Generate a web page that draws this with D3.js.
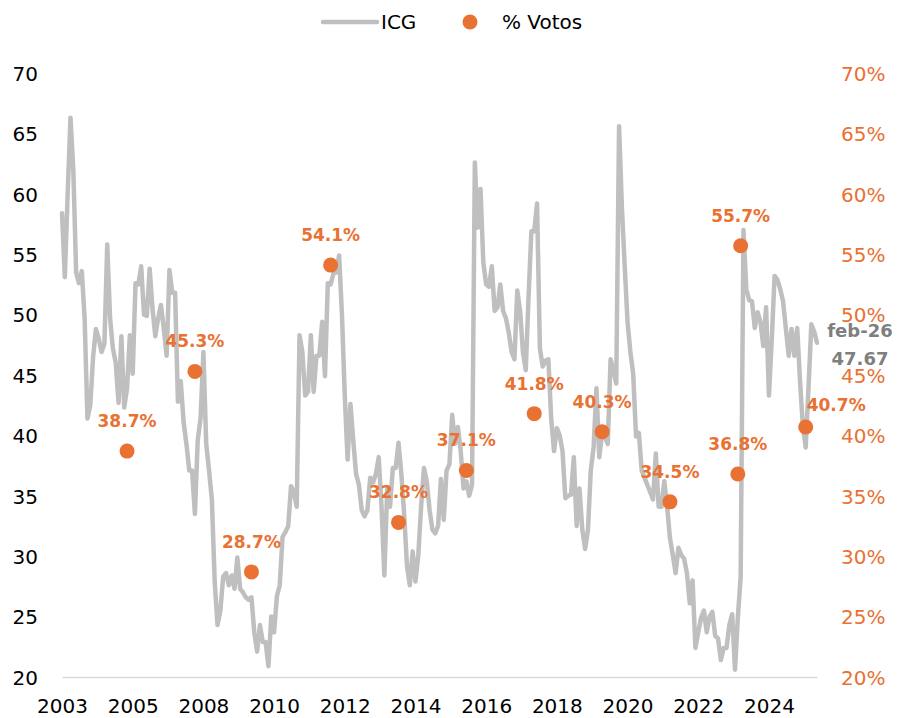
<!DOCTYPE html>
<html>
<head>
<meta charset="utf-8">
<script src="https://cdn.jsdelivr.net/npm/d3@7"></script>
<style>
  body { margin: 0; background: #fff; }
  svg { font-family: "DejaVu Sans", sans-serif; }
</style>
</head>
<body>
<div id="chart"></div>
<script>
// monthly ICG, Nov-2003 .. Feb-2026
var firstMonth = new Date(2003, 10, 1);
var icg = [
  58.4, 53.1, 60.0, 66.3, 62.0, 53.5, 52.6, 53.6, 49.7, 41.4,
  42.5, 46.5, 48.8, 48.0, 46.9, 47.6, 55.8, 49.7, 47.2, 46.0,
  42.7, 48.2, 42.3, 43.9, 48.3, 45.1, 52.6, 52.5, 54.0, 50.0,
  49.9, 53.8, 50.5, 48.2, 49.7, 50.8, 48.8, 46.6, 53.7, 51.8,
  51.8, 42.8, 44.5, 41.1, 39.3, 37.1, 37.1, 33.5, 39.6, 41.4,
  46.9, 39.3, 37.1, 34.7, 27.9, 24.3, 25.5, 28.3, 28.6, 27.6,
  28.4, 27.3, 29.9, 27.3, 27.0, 26.6, 26.4, 26.6, 23.7, 22.1,
  24.3, 22.9, 22.9, 20.9, 25.0, 23.7, 26.7, 27.6, 31.6, 32.0,
  32.5, 35.8, 35.3, 34.1, 48.3, 46.9, 43.3, 43.6, 48.3, 43.6,
  46.6, 46.6, 49.4, 44.9, 52.6, 52.5, 53.4, 53.5, 54.9, 50.0,
  43.3, 38.0, 42.6, 39.6, 36.8, 35.9, 33.8, 33.3, 33.8, 36.5,
  36.1, 36.8, 38.2, 34.1, 28.4, 35.6, 34.1, 37.3, 37.3, 39.4,
  36.8, 33.5, 29.2, 27.6, 30.4, 27.9, 30.1, 34.1, 37.3, 36.2,
  33.8, 32.2, 31.9, 32.5, 36.4, 33.0, 37.1, 37.6, 41.7, 39.3,
  40.7, 38.7, 35.6, 36.2, 35.0, 35.9, 62.6, 57.2, 60.4, 54.3,
  52.5, 52.3, 54.0, 50.3, 50.6, 52.5, 50.3, 49.7, 48.5, 46.9,
  46.3, 52.0, 50.3, 46.9, 45.4, 51.5, 56.9, 56.9, 59.2, 47.2,
  45.7, 46.2, 46.3, 41.4, 38.7, 40.6, 40.0, 38.7, 34.8, 35.0,
  35.1, 38.2, 32.5, 35.6, 32.2, 30.6, 32.2, 37.1, 39.0, 43.9,
  38.2, 40.2, 39.9, 39.3, 46.3, 45.4, 44.3, 65.6, 58.9, 54.0,
  49.4, 46.9, 45.1, 39.9, 40.2, 37.1, 36.5, 35.9, 35.3, 34.7,
  38.5, 34.1, 34.1, 36.2, 34.1, 31.5, 30.1, 28.6, 30.7, 30.1,
  29.8, 28.6, 26.1, 28.0, 22.4, 23.7, 24.9, 25.5, 23.7, 25.0,
  25.4, 23.4, 23.2, 21.4, 22.4, 22.4, 24.3, 25.2, 20.6, 24.9,
  28.3, 57.0, 52.1, 51.2, 51.1, 48.9, 50.2, 49.4, 47.4, 50.6,
  43.3, 47.9, 53.2, 52.9, 52.1, 51.1, 48.8, 46.6, 48.8, 46.6,
  48.9, 44.5, 40.8, 39.0, 44.0, 49.2, 48.6, 47.67
];

// elections
var voteMonths = ["2005-10", "2007-10", "2009-06", "2011-10", "2013-10", "2015-10",
                  "2017-10", "2019-10", "2021-10", "2023-10", "2023-11", "2025-10"];
var votePct = [38.7, 45.3, 28.7, 54.1, 32.8, 37.1, 41.8, 40.3, 34.5, 36.8, 55.7, 40.7];

var xTickLabels = ["2003", "2005", "2008", "2010", "2012", "2014", "2016", "2018", "2020", "2022", "2024"];
var xTickEvery = 25;
var leftTicks = [20, 25, 30, 35, 40, 45, 50, 55, 60, 65, 70];
var rightTicks = [0.20, 0.25, 0.30, 0.35, 0.40, 0.45, 0.50, 0.55, 0.60, 0.65, 0.70];
var lastLabel = ["feb-26", "47.67"];

var W = 897, H = 718;
var plotLeft = 62, plotRight = 817, plotTop = 73, plotBottom = 677;
var grey = "#bfbfbf", orange = "#e97132";

var months = icg.map(function(d, i) { return d3.timeMonth.offset(firstMonth, i); });
var fmtYM = d3.timeFormat("%Y-%m");

var x = d3.scaleLinear().domain([0, icg.length - 1]).range([plotLeft, plotRight]);
var y = d3.scaleLinear().domain([20, 70]).range([plotBottom, plotTop]);
var y2 = d3.scaleLinear().domain([0.2, 0.7]).range([plotBottom, plotTop]);

var svg = d3.select("#chart").append("svg")
    .attr("width", W)
    .attr("height", H);

// axes
var gL = svg.append("g")
    .attr("transform", "translate(38,0)")
    .call(d3.axisLeft(y).tickValues(leftTicks).tickSize(0).tickPadding(0));
gL.select(".domain").remove();
gL.selectAll("text").attr("font-size", 20).attr("fill", "#000").attr("dy", "0.36em")
    .attr("font-family", "DejaVu Sans");

var gR = svg.append("g")
    .attr("transform", "translate(841,0)")
    .call(d3.axisRight(y2).tickValues(rightTicks).tickSize(0).tickPadding(0)
      .tickFormat(d3.format(".0%")));
gR.select(".domain").remove();
gR.selectAll("text").attr("font-size", 20).attr("fill", orange).attr("dy", "0.36em")
    .attr("font-family", "DejaVu Sans");

var tickIdx = xTickLabels.map(function(d, i) { return i * xTickEvery; });
var gX = svg.append("g")
    .attr("transform", "translate(0," + plotBottom + ")")
    .call(d3.axisBottom(x).tickValues(tickIdx).tickSize(0).tickPadding(22)
      .tickFormat(function(d, i) { return xTickLabels[i]; }));
gX.select(".domain").attr("stroke", "#d9d9d9").attr("stroke-width", 1.5);
gX.selectAll("text").attr("font-size", 20).attr("fill", "#000")
    .attr("font-family", "DejaVu Sans");

// ICG line
var line = d3.line()
    .x(function(d, i) { return x(i); })
    .y(function(d) { return y(d); });

svg.append("path")
    .datum(icg)
    .attr("fill", "none")
    .attr("stroke", grey)
    .attr("stroke-width", 4.5)
    .attr("stroke-linejoin", "round")
    .attr("stroke-linecap", "round")
    .attr("d", line);

// vote points
var votes = voteMonths.map(function(m, i) {
  return { i: months.findIndex(function(d) { return fmtYM(d) === m; }), v: votePct[i] / 100 };
});

svg.selectAll(".dot")
    .data(votes)
  .enter().append("circle")
    .attr("class", "dot")
    .attr("cx", function(d) { return x(d.i); })
    .attr("cy", function(d) { return y2(d.v); })
    .attr("r", 7.5)
    .attr("fill", orange);

svg.selectAll(".vlab")
    .data(votes)
  .enter().append("text")
    .attr("class", "vlab")
    .attr("x", function(d, i) { return i === votes.length - 1 ? x(d.i) + 1 : x(d.i); })
    .attr("y", function(d, i) { return y2(d.v) - (i === votes.length - 1 ? 16 : 24); })
    .attr("text-anchor", function(d, i) { return i === votes.length - 1 ? "start" : "middle"; })
    .attr("font-size", 17)
    .attr("font-weight", "bold")
    .attr("fill", orange)
    .text(function(d) { return d3.format(".1f")(d.v * 100) + "%"; });

// last value label
svg.append("g").selectAll("text")
    .data(lastLabel)
  .enter().append("text")
    .attr("x", 860)
    .attr("y", function(d, i) { return 337 + i * 28; })
    .attr("text-anchor", "middle")
    .attr("font-size", 18)
    .attr("font-weight", "bold")
    .attr("fill", "#7f7f7f")
    .text(function(d) { return d; });

// legend
var leg = svg.append("g");
leg.append("line")
    .attr("x1", 323).attr("x2", 377).attr("y1", 22).attr("y2", 22)
    .attr("stroke", grey).attr("stroke-width", 4.5).attr("stroke-linecap", "round");
leg.append("text").attr("x", 381).attr("y", 29).attr("font-size", 20).attr("fill", "#000").text("ICG");
leg.append("circle").attr("cx", 470).attr("cy", 22).attr("r", 7.5).attr("fill", orange);
leg.append("text").attr("x", 502).attr("y", 29).attr("font-size", 20).attr("fill", "#000").text("% Votos");
</script>
</body>
</html>
